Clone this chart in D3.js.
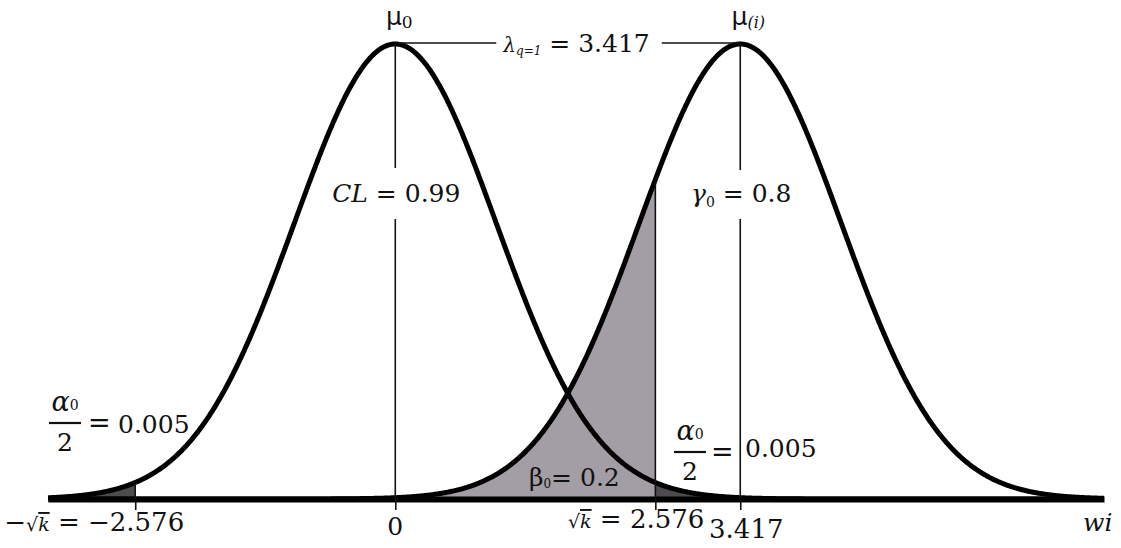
<!DOCTYPE html>
<html>
<head>
<meta charset="utf-8">
<script src="https://cdn.jsdelivr.net/npm/d3@7"></script>
<style>
  html, body { margin: 0; padding: 0; background: #fff; }
  svg { display: block; }
  text { font-family: "DejaVu Serif", serif; fill: #111; }
</style>
</head>
<body>
<svg id="chart" width="1121" height="548"></svg>
<script>
// Null distribution and shifted (alternative) distribution, both unit variance
const means = [0, 3.417];
const sigma = 1;
// Two-sided critical values of the test (alpha0 = 0.01)
const criticalValues = [-2.576, 2.576];
// Horizontal extent of the w_i axis
const axisExtent = [-3.44, 7.02];
// Positions marked on the axis and their labels
const tickValues = [-2.576, 0, 2.576, 3.417];
const tickLabels = ["\u2212\u221Ak = \u22122.576", "0", "\u221Ak = 2.576", "3.417"];
// Quantities written on the diagram
const shift = 3.417;        // lambda_{q=1}
const confidence = 0.99;    // CL
const power = 0.8;          // gamma_0
const typeII = 0.2;         // beta_0
const halfAlpha = 0.005;    // alpha_0 / 2

const svg = d3.select("#chart");

const pdf = (x, m) => Math.exp(-0.5 * ((x - m) / sigma) ** 2) / (sigma * Math.sqrt(2 * Math.PI));

const x = d3.scaleLinear().domain(axisExtent).range([48, 1104]);
const y = d3.scaleLinear().domain([0, pdf(0, 0)]).range([499, 44]);

// sample grid along the axis, with the critical values included exactly
const grid = d3.range(axisExtent[0], axisExtent[1], 0.01).concat([axisExtent[1]], criticalValues).sort(d3.ascending);

const line = m => d3.line().x(d => x(d)).y(d => y(pdf(d, m)));
const area = m => d3.area().x(d => x(d)).y0(y(0)).y1(d => y(pdf(d, m)));

// --- shaded regions ---
// beta_0: alternative distribution below the upper critical value
svg.append("path")
  .datum(grid.filter(d => d <= criticalValues[1]))
  .attr("d", area(means[1]))
  .attr("fill", "#a39ea6");

// alpha_0/2 tails of the null distribution
svg.append("path")
  .datum(grid.filter(d => d <= criticalValues[0]))
  .attr("d", area(means[0]))
  .attr("fill", "#4e4b4f");
svg.append("path")
  .datum(grid.filter(d => d >= criticalValues[1]))
  .attr("d", area(means[0]))
  .attr("fill", "#4e4b4f");

// --- axis ---
const axis = d3.axisBottom(x)
  .tickValues(tickValues)
  .tickSizeInner(11)
  .tickSizeOuter(0)
  .tickFormat("");
const gAxis = svg.append("g").attr("transform", `translate(0,${y(0)})`).call(axis);
gAxis.select(".domain").attr("stroke", "#000").attr("stroke-width", 6);
gAxis.selectAll(".tick line").attr("stroke", "#111").attr("stroke-width", 1.6);

// --- density curves ---
means.forEach(m => {
  svg.append("path")
    .datum(grid)
    .attr("d", line(m))
    .attr("fill", "none")
    .attr("stroke", "#000")
    .attr("stroke-width", 5)
    .attr("stroke-linejoin", "round");
});

// --- vertical guides from each curve down to the axis ---
const guides = [
  { v: criticalValues[0], m: means[0] },
  { v: means[0], m: means[0] },
  { v: criticalValues[1], m: means[1] },
  { v: means[1], m: means[1] }
];
svg.selectAll("line.guide").data(guides).join("line")
  .attr("class", "guide")
  .attr("x1", d => x(d.v)).attr("x2", d => x(d.v))
  .attr("y1", d => y(pdf(d.v, d.m))).attr("y2", y(0))
  .attr("stroke", "#111").attr("stroke-width", 1.6);

// --- text helpers ---
function boxed(g, pad) {
  const b = g.node().getBBox();
  g.insert("rect", ":first-child")
    .attr("x", b.x - pad[0]).attr("y", b.y - pad[1])
    .attr("width", b.width + 2 * pad[0]).attr("height", b.height + 2 * pad[1])
    .attr("fill", "#fff");
}

// mu labels over the peaks
function muLabel(cx, sub, italicSub) {
  const t = svg.append("text").attr("x", cx).attr("y", 25).attr("text-anchor", "middle");
  t.append("tspan").text("\u03BC").style("font-family", "'DejaVu Sans', sans-serif").style("font-size", "25px");
  t.append("tspan").text(sub).attr("dy", 3)
    .style("font-size", italicSub ? "16px" : "17px").style("font-style", italicSub ? "italic" : "normal");
}
muLabel(x(means[0]) + 4, "0", false);
muLabel(x(means[1]) + 8, "(i)", true);

// lambda: distance between the two means
const lam = svg.append("text").attr("x", x(means[0]) + 108).attr("y", 52);
lam.append("tspan").text("\u03BB").style("font-style", "italic").style("font-size", "20px");
lam.append("tspan").text("q=1").attr("dy", 3).style("font-style", "italic").style("font-size", "12px");
lam.append("tspan").text(" = " + d3.format(".3f")(shift)).attr("dy", -3).style("font-size", "25px");
const lb = lam.node().getBBox();
const topY = y(pdf(0, 0)) - 1;
svg.append("line").attr("x1", x(means[0])).attr("x2", lb.x - 6).attr("y1", topY).attr("y2", topY)
  .attr("stroke", "#111").attr("stroke-width", 1.4);
svg.append("line").attr("x1", lb.x + lb.width + 12).attr("x2", x(means[1])).attr("y1", topY).attr("y2", topY)
  .attr("stroke", "#111").attr("stroke-width", 1.4);

// CL inside the null curve
const gCL = svg.append("g");
const tCL = gCL.append("text").attr("x", x(means[0]) + 1).attr("y", 202).attr("text-anchor", "middle").style("font-size", "25px");
tCL.append("tspan").text("CL").style("font-style", "italic");
tCL.append("tspan").text(" = " + confidence);
boxed(gCL, [4, 11]);

// gamma_0 inside the alternative curve
const gG = svg.append("g");
const tG = gG.append("text").attr("x", x(means[1]) + 1).attr("y", 202).attr("text-anchor", "middle").style("font-size", "25px");
tG.append("tspan").text("\u03B3").style("font-style", "italic");
tG.append("tspan").text("0").attr("dy", 5).style("font-size", "14px");
tG.append("tspan").text(" = " + power).attr("dy", -5);
boxed(gG, [4, 9]);

// alpha_0 / 2 fractions
function halfAlphaLabel(cx, barY, eqX, numX, numBaseline) {
  const num = svg.append("text").attr("x", cx).attr("y", barY - 12).attr("text-anchor", "middle");
  num.append("tspan").text("\u03B1").style("font-style", "italic").style("font-size", "27px");
  num.append("tspan").text("0").attr("dy", -1).style("font-size", "14px");
  svg.append("line").attr("x1", cx - 16).attr("x2", cx + 16).attr("y1", barY).attr("y2", barY)
    .attr("stroke", "#111").attr("stroke-width", 2.2);
  svg.append("text").attr("x", cx).attr("y", barY + 28).attr("text-anchor", "middle").style("font-size", "25px").text("2");
  svg.append("text").attr("x", eqX).attr("y", barY + 9).style("font-size", "27px").text("=");
  svg.append("text").attr("x", numX).attr("y", numBaseline).style("font-size", "25px").text(d3.format(".3f")(halfAlpha));
}
halfAlphaLabel(65, 423, 88, 118, 433);
halfAlphaLabel(690, 452, 711, 745, 457);

// beta_0 in the shaded region
const tB = svg.append("text").attr("x", 529).attr("y", 486).style("font-size", "25px");
tB.append("tspan").text("\u03B2");
tB.append("tspan").text("0").attr("dy", 2).style("font-size", "12px");
tB.append("tspan").text("= " + typeII).attr("dy", -2);

// tick labels under the axis
function rootK(t) {
  t.append("tspan").text("\u221A").style("font-size", "19px").style("font-family", "'DejaVu Sans', sans-serif");
  t.append("tspan").text("k").style("font-size", "19px").style("font-style", "italic").style("text-decoration", "overline");
}
const tk0 = svg.append("text").attr("x", x(tickValues[0]) + 49).attr("y", 531).attr("text-anchor", "end").style("font-size", "26px");
tk0.append("tspan").text("\u2212");
rootK(tk0);
tk0.append("tspan").text(" = \u22122.576");

svg.append("text").attr("x", x(tickValues[1])).attr("y", 535).attr("text-anchor", "middle").style("font-size", "25px").text(tickLabels[1]);

const tk2 = svg.append("text").attr("x", x(tickValues[2]) + 49).attr("y", 528).attr("text-anchor", "end").style("font-size", "26px");
rootK(tk2);
tk2.append("tspan").text(" = 2.576");

svg.append("text").attr("x", x(tickValues[3]) + 6).attr("y", 538).attr("text-anchor", "middle").style("font-size", "26px").text(tickLabels[3]);

// axis name
const wi = svg.append("text").attr("x", 1083).attr("y", 531).style("font-size", "25px").style("font-style", "italic");
wi.append("tspan").text("w");
wi.append("tspan").text("i");
</script>
</body>
</html>
